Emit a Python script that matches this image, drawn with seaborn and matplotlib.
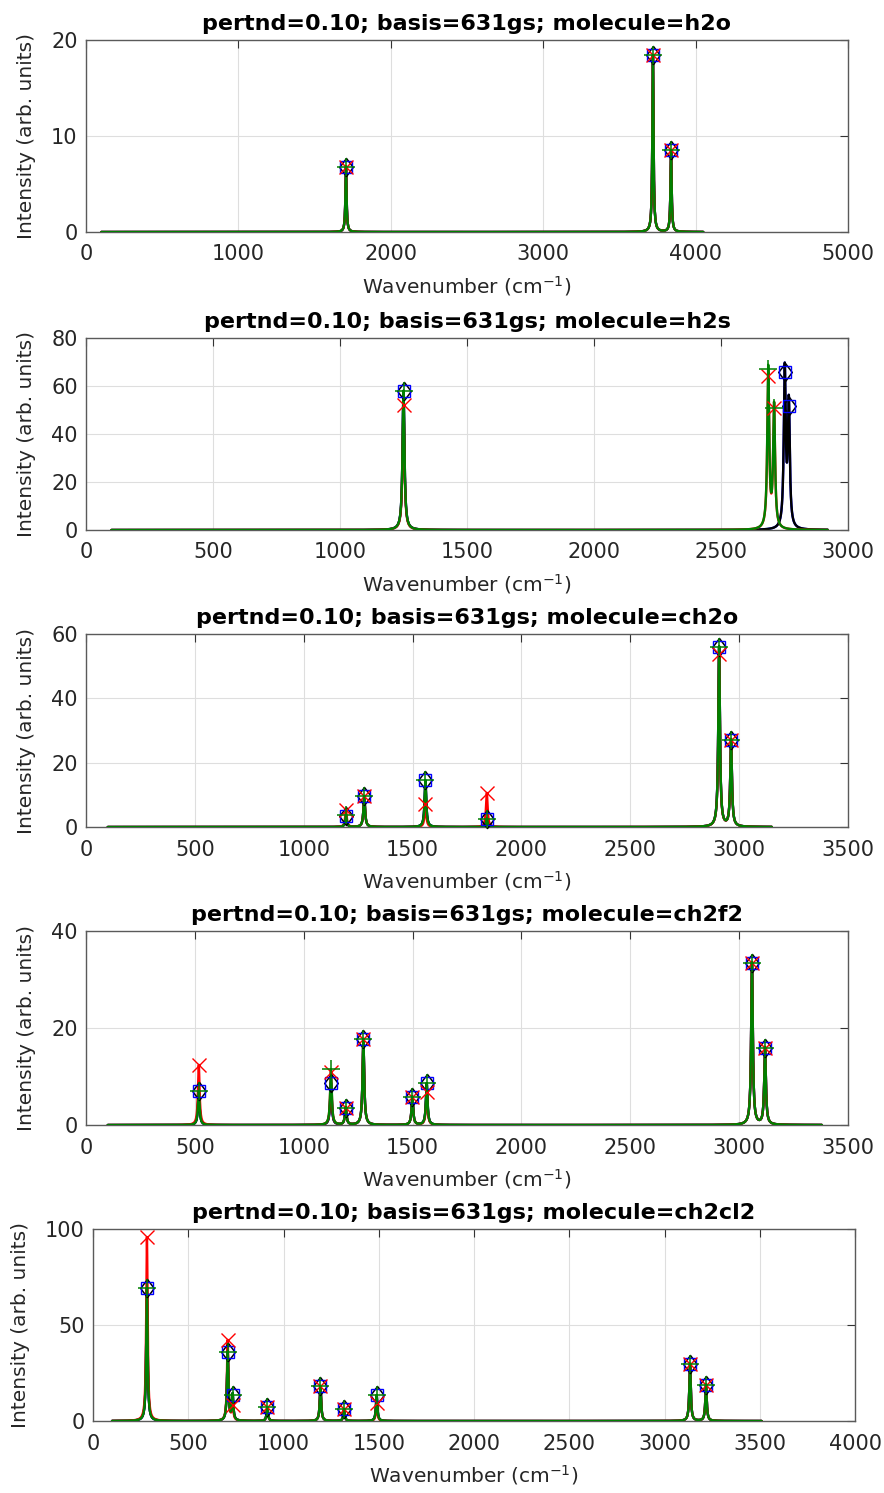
import numpy as np
import pandas as pd
import matplotlib
matplotlib.use("Agg")
import matplotlib.pyplot as plt
from matplotlib.path import Path
import seaborn as sns

# ---- peak tables (wavenumber in cm^-1, intensity in arb. units) ----
molecules = ["h2o", "h2s", "ch2o", "ch2f2", "ch2cl2"]

h2o_freq_ref = [1706, 3720, 3839]
h2o_int_ref = [6.8, 18.4, 8.5]
h2o_freq_sq = [1706, 3720, 3839]
h2o_int_sq = [6.8, 18.4, 8.5]
h2o_freq_x = [1706, 3720, 3839]
h2o_int_x = [6.8, 18.4, 8.5]
h2o_freq_plus = [1706, 3720, 3839]
h2o_int_plus = [6.8, 18.4, 8.5]

h2s_freq_ref = [1250, 2751, 2767]
h2s_int_ref = [58, 66, 51.5]
h2s_freq_sq = [1250, 2751, 2767]
h2s_int_sq = [58, 66, 51.5]
h2s_freq_x = [1250, 2686, 2709]
h2s_int_x = [52, 64, 51]
h2s_freq_plus = [1250, 2686, 2709]
h2s_int_plus = [58, 67, 51]

ch2o_freq = [1194, 1278, 1559, 1841, 2908, 2963]
ch2o_int_ref = [3.3, 9.6, 14.5, 2.6, 56, 27]
ch2o_int_sq = [3.3, 9.6, 14.5, 2.6, 56, 27]
ch2o_int_x = [5.3, 9.6, 7.1, 10.6, 53.8, 27]
ch2o_int_plus = [3.6, 9.6, 14.5, 2.6, 56, 27]

ch2f2_freq = [518, 1125, 1193, 1274, 1499, 1565, 3059, 3119]
ch2f2_int_ref = [7.0, 8.7, 3.6, 17.7, 5.8, 8.6, 33.4, 15.9]
ch2f2_int_sq = [7.0, 8.7, 3.6, 17.7, 5.8, 8.6, 33.4, 15.9]
ch2f2_int_x = [12.4, 11.0, 3.6, 17.7, 5.8, 6.9, 33.4, 15.9]
ch2f2_int_plus = [7.0, 11.5, 3.6, 17.7, 5.8, 8.6, 33.4, 15.9]

ch2cl2_freq = [283, 707, 733, 915, 1194, 1318, 1489, 3134, 3218]
ch2cl2_int_ref = [69.3, 36, 13.5, 7.1, 18.2, 6.1, 13.5, 29.7, 18.8]
ch2cl2_int_sq = [69.3, 36, 13.5, 7.1, 18.2, 6.1, 13.5, 29.7, 18.8]
ch2cl2_int_x = [95.8, 42, 8.4, 7.1, 18.2, 6.1, 9.2, 29.7, 18.8]
ch2cl2_int_plus = [69.3, 36, 13.5, 7.1, 18.2, 6.1, 13.5, 29.7, 18.8]

spectrum_start = [100, 100, 100, 100, 100]
spectrum_end = [4050, 2920, 3150, 3380, 3510]

x_limits = [5000, 3000, 3500, 3500, 4000]
x_steps = [1000, 500, 500, 500, 500]
y_limits = [20, 80, 60, 40, 100]
y_steps = [10, 20, 20, 20, 50]

series = {
    "h2o": [(h2o_freq_ref, h2o_int_ref), (h2o_freq_sq, h2o_int_sq),
            (h2o_freq_x, h2o_int_x), (h2o_freq_plus, h2o_int_plus)],
    "h2s": [(h2s_freq_ref, h2s_int_ref), (h2s_freq_sq, h2s_int_sq),
            (h2s_freq_x, h2s_int_x), (h2s_freq_plus, h2s_int_plus)],
    "ch2o": [(ch2o_freq, ch2o_int_ref), (ch2o_freq, ch2o_int_sq),
             (ch2o_freq, ch2o_int_x), (ch2o_freq, ch2o_int_plus)],
    "ch2f2": [(ch2f2_freq, ch2f2_int_ref), (ch2f2_freq, ch2f2_int_sq),
              (ch2f2_freq, ch2f2_int_x), (ch2f2_freq, ch2f2_int_plus)],
    "ch2cl2": [(ch2cl2_freq, ch2cl2_int_ref), (ch2cl2_freq, ch2cl2_int_sq),
               (ch2cl2_freq, ch2cl2_int_x), (ch2cl2_freq, ch2cl2_int_plus)],
}

HWHM = 4.5  # Lorentzian half width (cm^-1)

diamond = Path([(0, 1), (0.75, 0), (0, -1), (-0.75, 0), (0, 1)],
               [Path.MOVETO, Path.LINETO, Path.LINETO, Path.LINETO, Path.CLOSEPOLY])

# per series: line colour, marker, marker size (pt), marker edge width, line z-order
styles = [
    ("black", diamond, 13.0, 1.1, 2.2),
    ("#0000ff", "s", 9.0, 1.0, 2.0),
    ("#ff0000", "x", 10.0, 1.0, 2.4),
    ("#008000", "+", 12.5, 1.1, 2.6),
]


def lorentzian_spectrum(grid, freqs, ints, gamma):
    y = np.zeros_like(grid)
    for f, a in zip(freqs, ints):
        y += a * gamma ** 2 / ((grid - f) ** 2 + gamma ** 2)
    return y


sns.set_style("white")
plt.rcParams["font.family"] = ["DejaVu Sans"]
plt.rcParams["mathtext.fontset"] = "dejavusans"

FS = 14.5
W, H = 884, 1493
fig = plt.figure(figsize=(W / 100, H / 100), dpi=100)

# axes boxes in pixels: left, top, right, bottom
boxes = [(86, 40, 848, 232), (86, 338, 848, 530), (86, 634, 848, 827),
         (86, 931, 848, 1125), (93, 1229, 855, 1421)]

txt_col = "#262626"
for i, mol in enumerate(molecules):
    l, t, r, b = boxes[i]
    ax = fig.add_axes([l / W, 1 - b / H, (r - l) / W, (b - t) / H])
    grid = np.arange(spectrum_start[i], spectrum_end[i] + 0.25, 0.25)

    for (freqs, ints), (col, mk, ms, mew, z) in zip(series[mol], styles):
        spec = lorentzian_spectrum(grid, freqs, ints, HWHM)
        df = pd.DataFrame({"wavenumber": grid, "intensity": spec})
        sns.lineplot(data=df, x="wavenumber", y="intensity", ax=ax,
                     color=col, linewidth=1.7, estimator=None, sort=False, zorder=z)
    for (freqs, ints), (col, mk, ms, mew, z) in zip(series[mol], styles):
        ax.plot(freqs, ints, linestyle="none", marker=mk, markersize=ms,
                markerfacecolor="none", markeredgecolor=col, markeredgewidth=mew,
                zorder=3, clip_on=False)

    ax.set_xlim(0, x_limits[i])
    ax.set_ylim(0, y_limits[i])
    ax.set_xticks(np.arange(0, x_limits[i] + 1, x_steps[i]))
    ax.set_yticks(np.arange(0, y_limits[i] + 1, y_steps[i]))
    ax.grid(True, color="#dedede", linewidth=0.8)
    ax.set_axisbelow(True)
    ax.tick_params(direction="in", length=6, width=0.8, colors="#333333",
                   labelsize=FS + 0.5, top=True, right=True)
    ax.tick_params(axis="x", pad=9)
    ax.tick_params(axis="y", pad=6)
    ax.tick_params(axis="both", labelcolor=txt_col)
    for s in ax.spines.values():
        s.set_color("#5a5a5a")
        s.set_linewidth(1.0)
    ax.set_xlabel("Wavenumber (cm$^{-1}$)", fontsize=FS, color=txt_col, labelpad=7)
    ax.set_ylabel("Intensity (arb. units)", fontsize=FS, color=txt_col, labelpad=11)
    ax.set_title(f"pertnd=0.10; basis=631gs; molecule={mol}", fontsize=FS + 1.5,
                 fontweight="bold", color="black", pad=7)

fig.savefig("out.png", dpi=100)
